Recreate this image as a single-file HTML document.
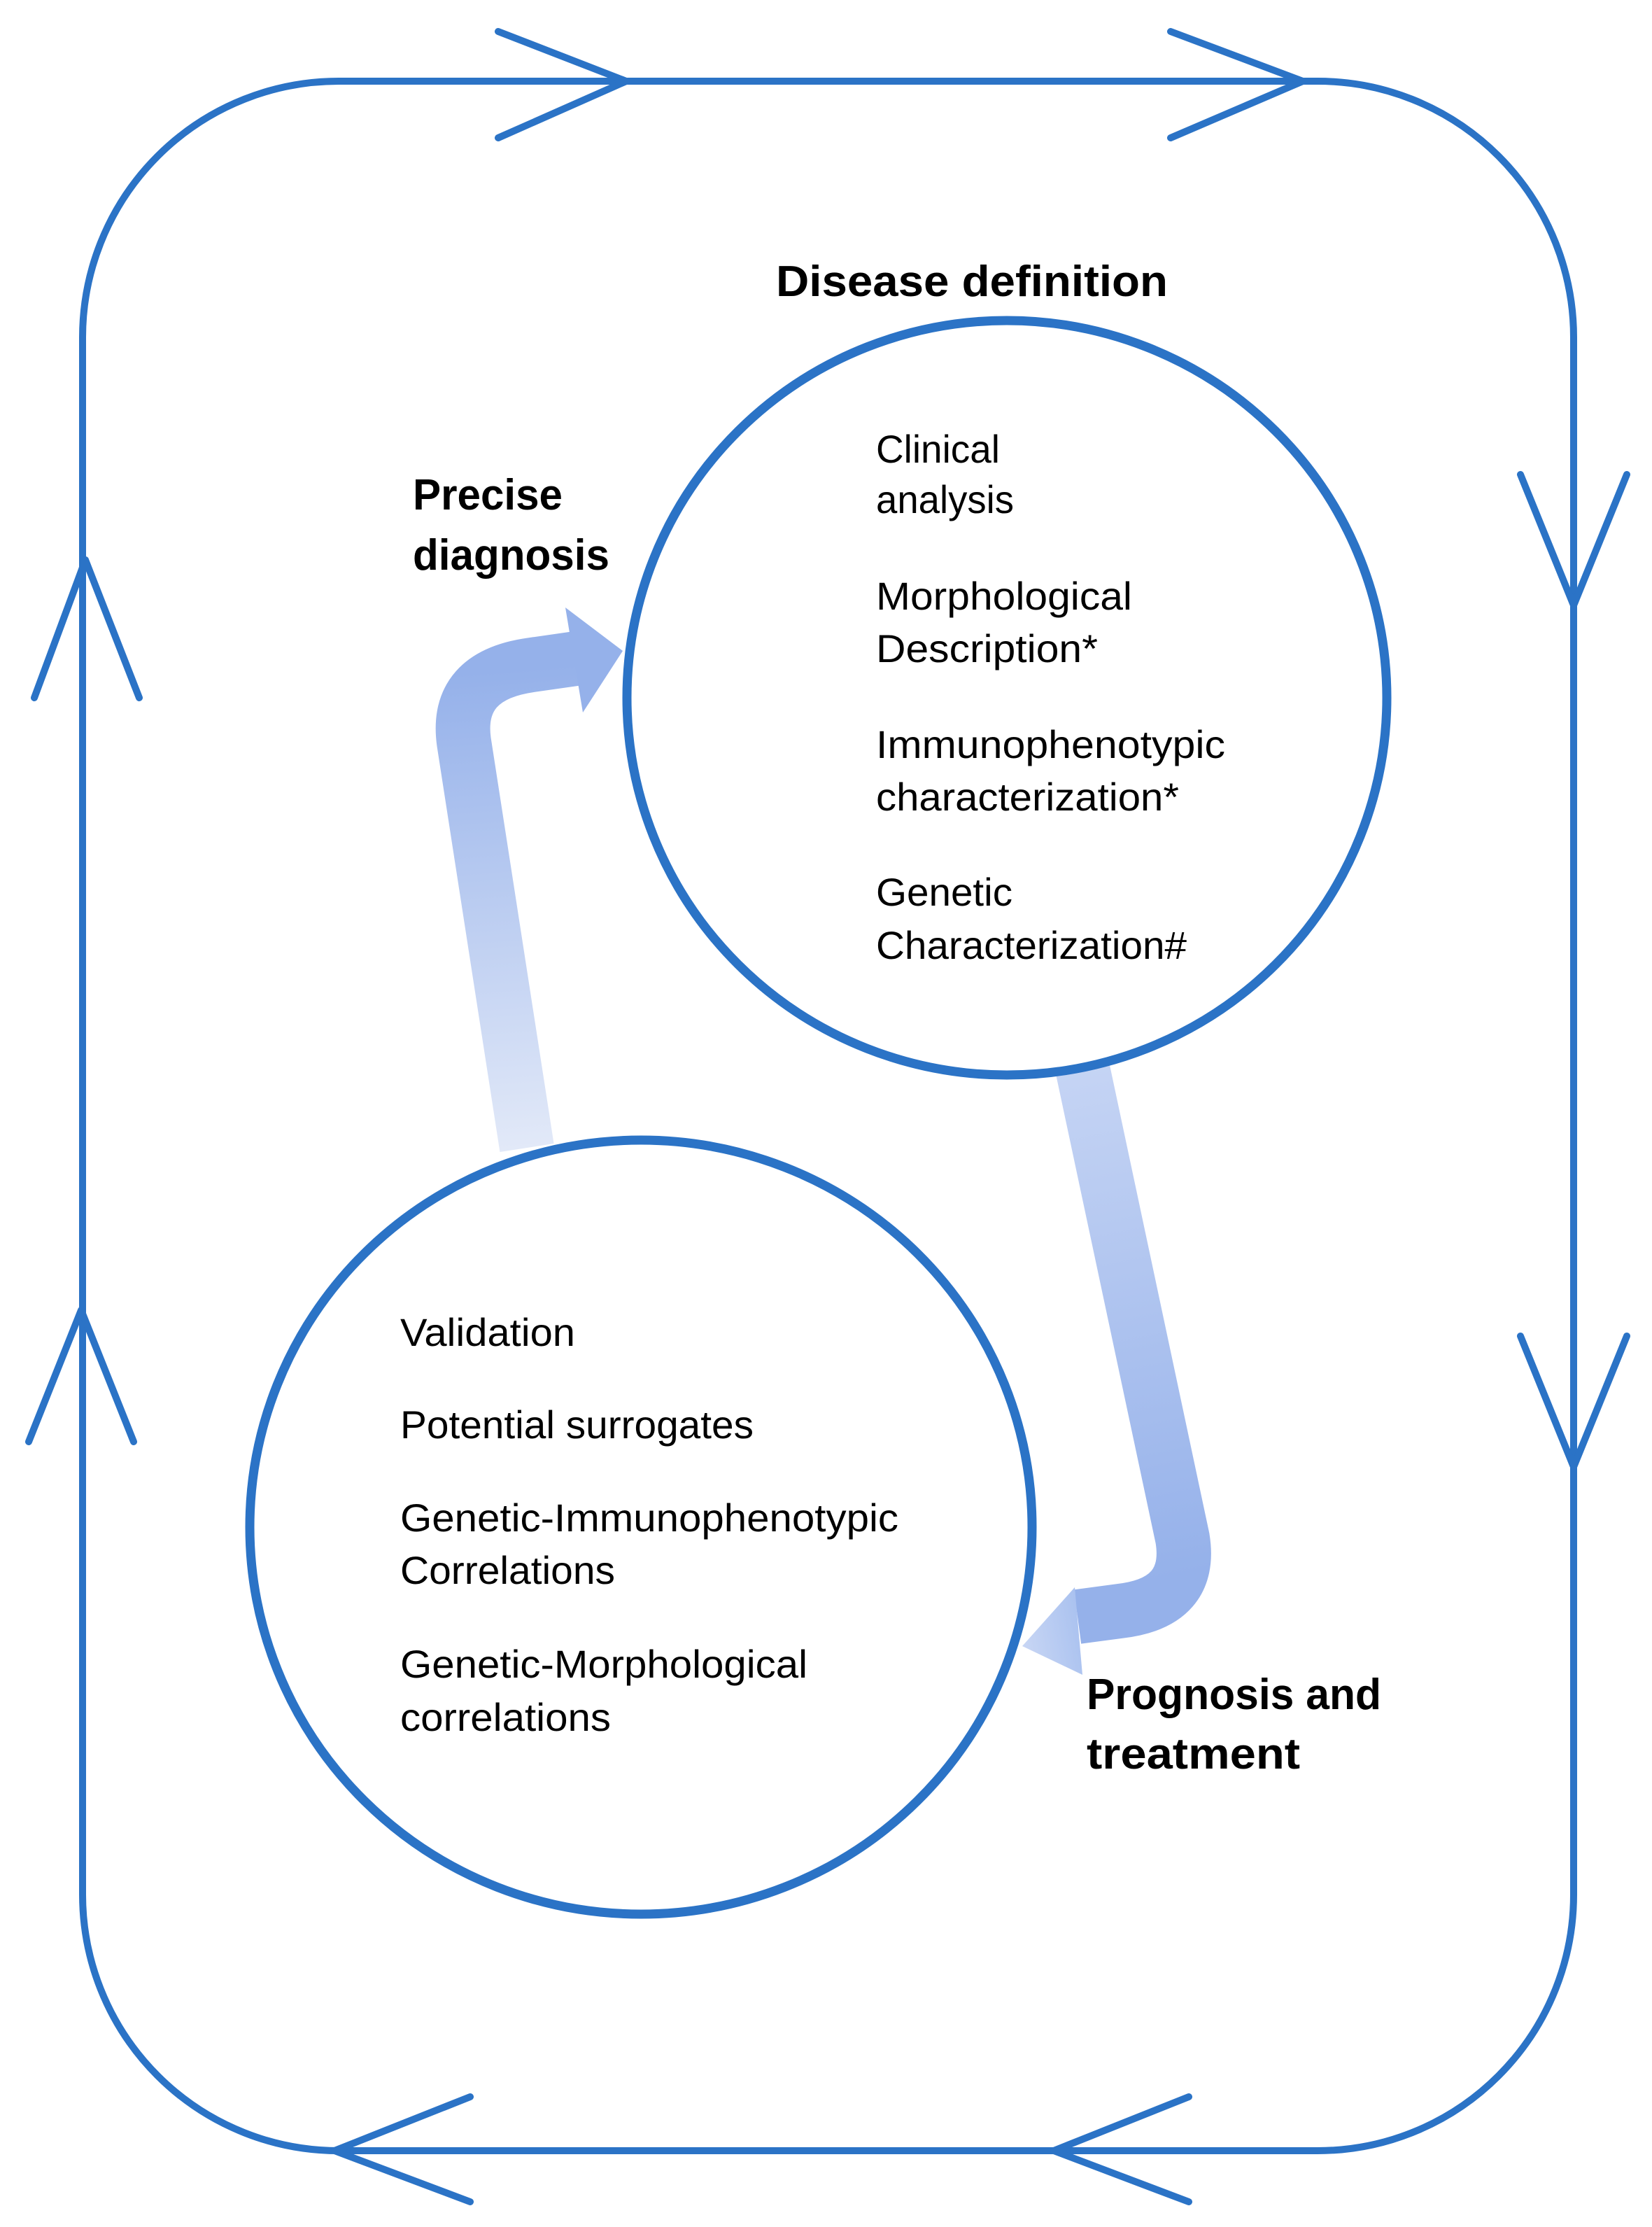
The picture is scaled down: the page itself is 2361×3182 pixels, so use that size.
<!DOCTYPE html>
<html><head><meta charset="utf-8"><style>html,body{margin:0;padding:0;background:#fff}svg{display:block}</style></head>
<body>
<svg width="2361" height="3182" viewBox="0 0 2361 3182" xmlns="http://www.w3.org/2000/svg">
<defs>
<linearGradient id="g1" gradientUnits="userSpaceOnUse" x1="753" y1="1640" x2="700" y2="960">
<stop offset="0" stop-color="#e2e9f8"/><stop offset="1" stop-color="#95b1ea"/></linearGradient>
<linearGradient id="g2" gradientUnits="userSpaceOnUse" x1="1547" y1="1526" x2="1690" y2="2250">
<stop offset="0" stop-color="#c5d4f4"/><stop offset="1" stop-color="#95b1ea"/></linearGradient>
<linearGradient id="g3" gradientUnits="userSpaceOnUse" x1="1461" y1="2350" x2="1560" y2="2330">
<stop offset="0" stop-color="#c8d6f4"/><stop offset="1" stop-color="#a6bfef"/></linearGradient>
</defs>
<g fill="none" stroke="#2b73c6" stroke-width="10" stroke-linecap="round" stroke-linejoin="round">
<rect x="118" y="116" width="2131" height="2957" rx="366" ry="366"/>
<polyline points="712,45 895,116 712,197"/>
<polyline points="1673,45 1862,116 1673,197"/>
<polyline points="2173,678 2249,865 2325,678"/>
<polyline points="2173,1909 2249,2096 2325,1909"/>
<polyline points="672,2996 478,3073 672,3146"/>
<polyline points="1699,2996 1506,3073 1699,3146"/>
<polyline points="49,997 122,800 199,997"/>
<polyline points="41,2060 116,1872 191,2060"/>
</g>
<g fill="none" stroke-width="78">
<path d="M753,1640 L663,1060 Q650,965 760,950 L830,940" stroke="url(#g1)"/>
<path d="M1547,1526 L1690,2198 Q1705,2290 1600,2302 L1540,2310" stroke="url(#g2)"/>
</g>
<polygon points="808,868 890,930 833,1018" fill="#95b1ea"/>
<polygon points="1536,2268 1461,2352 1547,2393" fill="url(#g3)"/>
<g fill="#fff" stroke="#2b73c6" stroke-width="13">
<ellipse cx="1439" cy="997" rx="543" ry="539"/>
<ellipse cx="916" cy="2182" rx="559" ry="553"/>
</g>
<g font-family="Liberation Sans, sans-serif" fill="#000">
<g font-weight="bold" font-size="62">
<text x="1109" y="423" textLength="560" lengthAdjust="spacingAndGlyphs">Disease  definition</text>
<text x="590" y="728" textLength="214" lengthAdjust="spacingAndGlyphs">Precise</text>
<text x="590" y="814" textLength="281" lengthAdjust="spacingAndGlyphs">diagnosis</text>
<text x="1553" y="2442" textLength="421" lengthAdjust="spacingAndGlyphs">Prognosis and</text>
<text x="1553" y="2527" textLength="305" lengthAdjust="spacingAndGlyphs">treatment</text>
</g>
<g font-size="56">
<text x="1252" y="661" textLength="177" lengthAdjust="spacingAndGlyphs">Clinical</text>
<text x="1252" y="733" textLength="197" lengthAdjust="spacingAndGlyphs">analysis</text>
<text x="1252" y="871" textLength="366" lengthAdjust="spacingAndGlyphs">Morphological</text>
<text x="1252" y="946" textLength="317" lengthAdjust="spacingAndGlyphs">Description*</text>
<text x="1252" y="1083" textLength="499" lengthAdjust="spacingAndGlyphs">Immunophenotypic</text>
<text x="1252" y="1158" textLength="433" lengthAdjust="spacingAndGlyphs">characterization*</text>
<text x="1252" y="1294" textLength="195" lengthAdjust="spacingAndGlyphs">Genetic</text>
<text x="1252" y="1370" textLength="444" lengthAdjust="spacingAndGlyphs">Characterization#</text>
<text x="572" y="1923" textLength="250" lengthAdjust="spacingAndGlyphs">Validation</text>
<text x="572" y="2055" textLength="505" lengthAdjust="spacingAndGlyphs">Potential surrogates</text>
<text x="572" y="2188" textLength="712" lengthAdjust="spacingAndGlyphs">Genetic-Immunophenotypic</text>
<text x="572" y="2263" textLength="307" lengthAdjust="spacingAndGlyphs">Correlations</text>
<text x="572" y="2397" textLength="582" lengthAdjust="spacingAndGlyphs">Genetic-Morphological</text>
<text x="572" y="2473" textLength="301" lengthAdjust="spacingAndGlyphs">correlations</text>
</g>
</g>
</svg>
</body></html>
